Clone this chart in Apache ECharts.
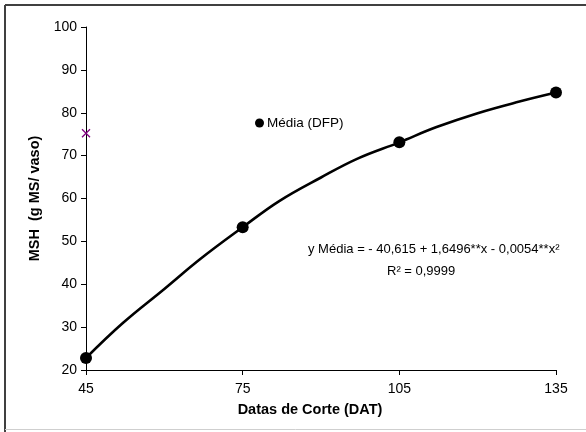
<!DOCTYPE html>
<html>
<head>
<meta charset="utf-8">
<script src="https://cdn.jsdelivr.net/npm/echarts@6/dist/echarts.min.js"></script>
<style>html,body{margin:0;padding:0;background:#fff;}#c{width:586px;height:432px;}</style>
</head>
<body>
<div id="c"></div>
<script>
// Observed means (Média DFP)
const cutDates = [45, 75, 105, 135];
const meanValues = [22.8, 53.3, 73.1, 84.7];
// Fitted curve
const curveX = [45, 52, 60, 67, 75, 82, 90, 97, 105, 112, 120, 128, 135];
const curveY = [22.8, 30.9, 38.9, 46.0, 53.3, 59.4, 64.9, 69.3, 73.1, 76.6, 79.9, 82.6, 84.7];
// Single purple marker
const markerX = [45];
const markerY = [75.2];
// Tick labels
const xTicks = [45, 75, 105, 135];
const yTicks = [20, 30, 40, 50, 60, 70, 80, 90, 100];
const equationLine1 = 'y Média = - 40,615 + 1,6496**x - 0,0054**x²';
const equationLine2 = 'R² = 0,9999';

const font = 'Liberation Sans, Arial, sans-serif';
const chart = echarts.init(document.getElementById('c'), null, {renderer: 'canvas'});
chart.setOption({
  animation: false,
  backgroundColor: '#fff',
  grid: {left: 86, right: 30, top: 27, bottom: 62, containLabel: false},
  legend: {
    data: ['Média (DFP)'],
    left: 250, top: 111,
    icon: 'circle', itemWidth: 9, itemHeight: 9, itemGap: 4,
    textStyle: {fontFamily: font, fontSize: 13.5, color: '#000', padding: [0, 0, 0, -2]}
  },
  xAxis: {
    type: 'value', min: xTicks[0], max: xTicks[xTicks.length - 1],
    name: 'Datas de Corte (DAT)', nameLocation: 'middle', nameGap: 32,
    nameTextStyle: {fontFamily: font, fontSize: 14.5, fontWeight: 'bold', color: '#000', padding: [0, 22, 0, 0]},
    axisLine: {show: true, lineStyle: {color: '#000', width: 1}},
    axisTick: {show: true, length: 5, inside: false, customValues: xTicks, lineStyle: {color: '#000'}},
    axisLabel: {customValues: xTicks, fontFamily: font, fontSize: 14, color: '#000', margin: 12},
    splitLine: {show: false}
  },
  yAxis: {
    type: 'value', min: yTicks[0], max: yTicks[yTicks.length - 1], interval: 10,
    name: 'MSH  (g MS/ vaso)', nameLocation: 'middle', nameGap: 44,
    nameTextStyle: {fontFamily: font, fontSize: 14.5, fontWeight: 'bold', color: '#000'},
    axisLine: {show: true, lineStyle: {color: '#000', width: 1}},
    axisTick: {show: true, length: 5, inside: false, lineStyle: {color: '#000'}},
    axisLabel: {fontFamily: font, fontSize: 14, color: '#000', margin: 9},
    splitLine: {show: false}
  },
  series: [
    {
      name: 'curve', type: 'line', smooth: 0.4, showSymbol: false, silent: true,
      data: curveX.map((x, i) => [x, curveY[i]]),
      lineStyle: {color: '#000', width: 2.6}, z: 2
    },
    {
      name: 'Média (DFP)', type: 'scatter', symbol: 'circle', symbolSize: 12,
      data: cutDates.map((x, i) => [x, meanValues[i]]),
      itemStyle: {color: '#000', opacity: 1}, z: 3
    },
    {
      name: 'marker', type: 'scatter', symbol: 'path://M0,0L10,10M10,0L0,10', symbolSize: 8,
      data: markerX.map((x, i) => [x, markerY[i]]),
      itemStyle: {color: 'none', borderColor: '#800080', borderWidth: 1.3, opacity: 1}, z: 4
    }
  ],
  graphic: [
    {type: 'line', shape: {x1: 5, y1: 5, x2: 586, y2: 5}, style: {stroke: '#404040', lineWidth: 2}},
    {type: 'line', shape: {x1: 5, y1: 5, x2: 5, y2: 432}, style: {stroke: '#404040', lineWidth: 2}},
    {type: 'line', shape: {x1: 5, y1: 429.5, x2: 586, y2: 429.5}, style: {stroke: '#cfcfcf', lineWidth: 1}},
    {type: 'text', left: 308, top: 243, style: {text: equationLine1, font: '13px ' + font, fill: '#000'}},
    {type: 'text', left: 387, top: 265, style: {text: equationLine2, font: '13px ' + font, fill: '#000'}}
  ]
});
</script>
</body>
</html>
